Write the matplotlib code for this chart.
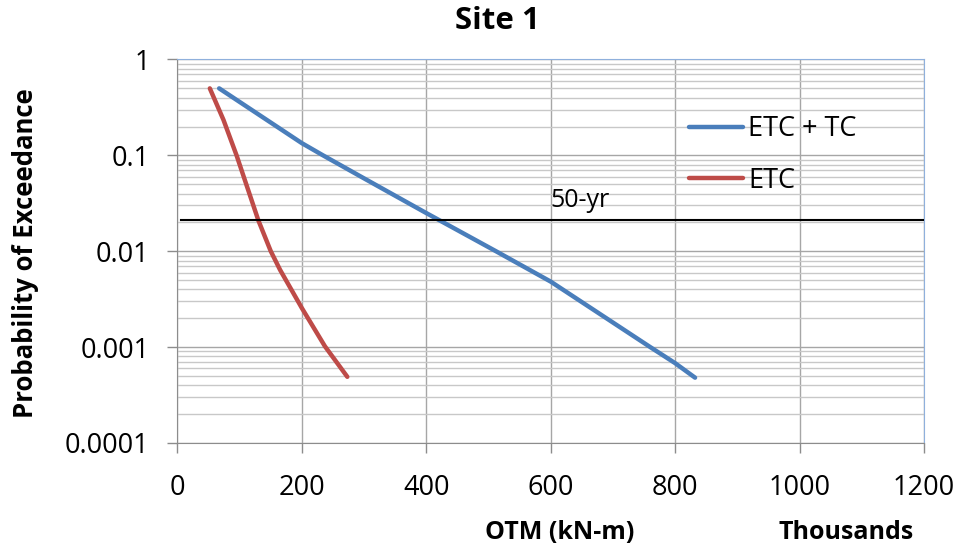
import matplotlib
matplotlib.use("Agg")
import matplotlib.pyplot as plt
from matplotlib.ticker import LogLocator, FixedLocator, NullFormatter, FixedFormatter

plt.rcParams['font.family'] = ['Open Sans', 'DejaVu Sans']

# Data (OTM in thousands of kN-m)
etc_tc_x = [67, 200, 234, 300, 400, 512, 600, 760, 800, 832]
etc_tc_p = [0.5, 0.134, 0.1, 0.0575, 0.025, 0.01, 0.00482, 0.001, 0.00068, 0.00048]
etc_x = [52, 74, 95, 130, 150, 165, 200, 237, 273]
etc_p = [0.5, 0.234, 0.1, 0.021, 0.01, 0.00638, 0.00255, 0.00102, 0.00049]
p50 = 0.021
x_ticks = [0, 200, 400, 600, 800, 1000, 1200]
y_ticks = [0.0001, 0.001, 0.01, 0.1, 1]
y_labels = ['0.0001', '0.001', '0.01', '0.1', '1']

fig = plt.figure(figsize=(9.64, 5.54), dpi=100)
ax = fig.add_axes([0.1841, 0.2004, 0.9585 - 0.1841, 0.8926 - 0.2004])
ax.set_yscale('log')
ax.set_xlim(0, 1200)
ax.set_ylim(0.0001, 1)

ax.yaxis.set_major_locator(FixedLocator(y_ticks))
ax.yaxis.set_major_formatter(FixedFormatter(y_labels))
ax.yaxis.set_minor_locator(LogLocator(base=10, subs=range(2, 10)))
ax.yaxis.set_minor_formatter(NullFormatter())
ax.xaxis.set_major_locator(FixedLocator(x_ticks))

ax.grid(True, which='major', axis='both', color='#a6a6a6', linewidth=1.0)
ax.grid(True, which='minor', axis='y', color='#c8c8c8', linewidth=1.0)
ax.set_axisbelow(True)

ax.plot(etc_tc_x, etc_tc_p, color='#4a7ebb', linewidth=3.2, solid_capstyle='round',
        solid_joinstyle='round', label='ETC + TC', zorder=3)
ax.plot(etc_x, etc_p, color='#be4b48', linewidth=3.2, solid_capstyle='round',
        solid_joinstyle='round', label='ETC', zorder=3)
ax.axhline(p50, xmin=0.005, color='black', linewidth=1.5, zorder=4)
ax.annotate('50-yr', xy=(600, p50), xytext=(0, 5), textcoords='offset points',
            fontsize=18, ha='left', va='bottom')

for s in ['left', 'bottom']:
    ax.spines[s].set_color('#8c8c8c')
for s in ['top', 'right']:
    ax.spines[s].set_color('#8fb0dc')
    ax.spines[s].set_linewidth(0.8)

ax.tick_params(axis='both', which='major', labelsize=19.5, length=7, color='#8c8c8c', width=1)
ax.tick_params(axis='y', which='minor', length=0)
ax.tick_params(axis='x', pad=15)
ax.tick_params(axis='y', pad=13)

leg = ax.legend(loc='upper left', bbox_to_anchor=(0.685, 0.855), frameon=False, fontsize=19.5,
                handlelength=2.0, handletextpad=0.2, labelspacing=0.88, borderaxespad=0, borderpad=0)

fig.text(0.5156, 0.962, 'Site 1', fontsize=22.5, fontweight='bold', ha='center', va='center')
fig.text(0.026, 0.543, 'Probability of Exceedance', fontsize=18.5, fontweight='bold',
         rotation=90, ha='center', va='center')
fig.text(0.581, 0.038, 'OTM (kN-m)', fontsize=18, fontweight='bold', ha='center', va='center')
fig.text(0.878, 0.038, 'Thousands', fontsize=18, fontweight='bold', ha='center', va='center')

fig.savefig('out.png', dpi=100)
